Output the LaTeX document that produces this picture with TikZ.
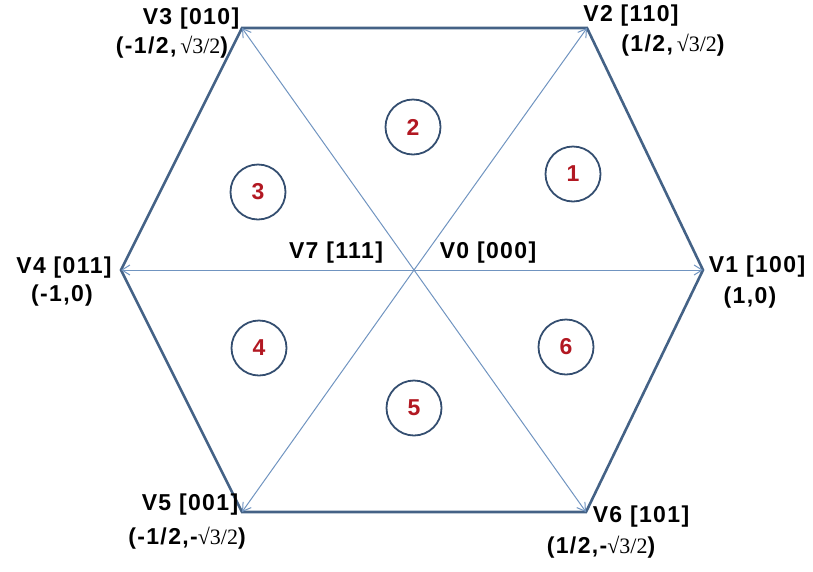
\documentclass[tikz,border=0pt]{standalone}
\usepackage{fontspec}
\setmainfont{Liberation Sans}
\newfontfamily\lblfont{Liberation Sans}[LetterSpace=6]
\newfontfamily\rootfont{Liberation Serif}
\usepackage{tikz}
\usetikzlibrary{arrows.meta}

\definecolor{edgeblue}{RGB}{68,98,134}
\definecolor{spokeblue}{RGB}{112,148,192}
\definecolor{ringblue}{RGB}{52,78,112}
\definecolor{numred}{RGB}{178,24,34}

\tikzset{
  side/.style={draw=edgeblue, line width=2.6pt, line join=miter},
  spoke/.style={draw=spokeblue, line width=1pt, -{Straight Barb[length=8pt,width=10pt]}},
  sector/.style={circle, draw=ringblue, line width=1.8pt, minimum size=55pt, inner sep=0pt,
    text=numred, font=\fontsize{23}{26}\selectfont\bfseries},
  vlabel/.style={font=\lblfont\fontsize{23}{26}\selectfont\bfseries, inner sep=0pt},
}
\newcommand{\rthalf}{{\rootfont\mdseries\fontsize{22}{26}\selectfont √3/2}}

\begin{document}
\begin{tikzpicture}[x=1pt, y=-1pt]
    \useasboundingbox (0,0) rectangle (813,571);
    % vertices of the hexagon
    \coordinate (o) at (414,270);
    \coordinate (v1) at (703,270);
    \coordinate (v2) at (587,28);
    \coordinate (v3) at (242,28);
    \coordinate (v4) at (121,270);
    \coordinate (v5) at (242,512);
    \coordinate (v6) at (586,512);

    \draw[side] (v1) -- (v2) -- (v3) -- (v4) -- (v5) -- (v6) -- cycle;
    \foreach \v in {v1,v2,v3,v4,v5,v6}
      \draw[spoke] (o) -- (\v);

    % sectors
    \node[sector] (s1) at (573,174) {1};
    \node[sector] (s2) at (413,127) {2};
    \node[sector] (s3) at (258,192) {3};
    \node[sector] (s4) at (259,348) {4};
    \node[sector] (s5) at (414,408) {5};
    \node[sector] (s6) at (566,347) {6};

    % vertex labels
    \node[vlabel] (l1) at (757,267) {V1 [100]};
    \node[vlabel] (c1) at (750,298) {(1,0)};
    \node[vlabel] (l2) at (631,16) {V2 [110]};
    \node[vlabel] (c2) at (673,45) {(1/2,\,\rthalf)};
    \node[vlabel] (l3) at (191,19) {V3 [010]};
    \node[vlabel] (c3) at (172,47) {(-1/2,\,\rthalf)};
    \node[vlabel] (l4) at (64,268) {V4 [011]};
    \node[vlabel] (c4) at (62,296) {(-1,0)};
    \node[vlabel] (l5) at (190,505) {V5 [001]};
    \node[vlabel] (c5) at (187,538) {(-1/2,-\rthalf)};
    \node[vlabel] (l6) at (641,517) {V6 [101]};
    \node[vlabel] (c6) at (601,547) {(1/2,-\rthalf)};
    \node[vlabel] (l7) at (336,253) {V7 [111]};
    \node[vlabel] (l0) at (488,253) {V0 [000]};
\end{tikzpicture}
\end{document}
